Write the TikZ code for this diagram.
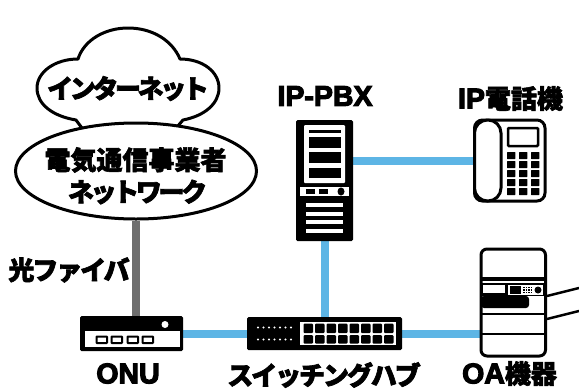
\documentclass[tikz,border=0pt]{standalone}
\usepackage{fontspec}
\usetikzlibrary{shapes.geometric}
\newfontfamily\jpfont{Noto Sans CJK JP}[BoldFeatures={FakeBold=2.2}]
\newfontfamily\jpkana{Noto Sans CJK JP}[BoldFeatures={FakeBold=2.6,LetterSpace=-13}]
\newfontfamily\jpkanb{Noto Sans CJK JP}[BoldFeatures={FakeBold=2.6,LetterSpace=-8}]
\newfontfamily\lafont{Liberation Sans}[BoldFeatures={FakeBold=4}]
\definecolor{lanblue}{HTML}{5DB5E5}
\definecolor{fibergray}{HTML}{6E6E6E}
\tikzset{
  lan/.style={draw=lanblue,line width=8pt},
  fiber/.style={draw=fibergray,line width=8pt},
  devbox/.style={inner sep=0pt,outer sep=0pt,draw=none},
  ink/.style={fill=black,draw=none},
  paper/.style={fill=white,draw=none},
  lbl/.style={inner sep=0pt,font=\jpfont\bfseries\fontsize{#1}{#1}\selectfont},
  kana/.style={inner sep=0pt,font=\jpkana\bfseries\fontsize{#1}{#1}\selectfont},
  kanb/.style={inner sep=0pt,font=\jpkanb\bfseries\fontsize{#1}{#1}\selectfont},
  latin/.style={inner sep=0pt,font=\lafont\bfseries\fontsize{28.5}{28.5}\selectfont},
}
\begin{document}
\begin{tikzpicture}[x=1pt,y=-1pt]
\useasboundingbox (0,0) rectangle (579,389);
% device anchors
\node[devbox,minimum width=57pt,minimum height=121pt] (server) at (324.5,180.5) {};
\node[devbox,minimum width=73pt,minimum height=83pt] (phone) at (509.5,160.5) {};
\node[devbox,minimum width=103pt,minimum height=35pt] (onu) at (131.5,333.5) {};
\node[devbox,minimum width=155pt,minimum height=33pt] (hub) at (324.5,333.5) {};
\node[devbox,minimum width=66pt,minimum height=109pt] (copier) at (513,302.5) {};
% cloud
\draw[line width=3pt,fill=white,line join=round] (82,128) -- (76,120)
  .. controls (52,116) and (37,104) .. (37,88)
  .. controls (37,72) and (55,59) .. (78,59)
  .. controls (84,40) and (105,28) .. (128,28)
  .. controls (152,28) and (172,40) .. (180,59)
  .. controls (203,59) and (219,72) .. (219,88)
  .. controls (219,104) and (204,116) .. (183,120) -- (177,127);
\node[kana=26] (inet) at (128,88.5) {インターネット};
% carrier ellipse
\node[ellipse,draw,line width=3pt,fill=white,minimum width=241pt,minimum height=96pt,inner sep=0pt] (carrier) at (136,171) {};
\node[lbl=26] (carriertxt1) at (135.5,160) {電気通信事業者};
\node[kana=26] (carriertxt2) at (137.5,192) {ネットワーク};
% connectors
\draw[fiber] (carrier.south) -- (carrier.south |- onu.north);
\draw[lan] ([yshift=20pt]server.east) -- (phone.west);
\draw[lan] (server.south) -- (hub.north);
\draw[lan] (onu.east) -- (hub.west);
\draw[lan] (hub.east) -- (hub.east -| copier.west);
% server
\fill[ink,rounded corners=1.5pt] (296,120) rectangle (353,241);
\fill[paper,rounded corners=1pt] (304,125) rectangle (345,183);
\fill[ink] (309,130) rectangle (341,132.5);
\fill[ink] (309,137) rectangle (341,148);
\fill[ink] (309,152) rectangle (341,163);
\fill[ink] (309,168) rectangle (341,178);
\fill[paper] (300,187) rectangle (349,196);
\fill[ink] (306,189) rectangle (315,194);
\fill[ink] (319,189) rectangle (328,194);
\fill[ink] (341,191.5) ellipse (3.5 and 4);
\foreach \yy in {203,211.5,220,229} \fill[paper] (306,\yy) rectangle (343,\yy+4.2);
% phone
\draw[line width=3pt,rounded corners=8pt,fill=white] (474.5,120) rectangle (545,201);
\draw[line width=3pt,rounded corners=13pt,fill=white] (474.5,120) rectangle (501,201);
\draw[line width=2.5pt,rounded corners=1pt] (508,128) rectangle (538,146);
\foreach \xx in {507,519,531}
  \foreach \yy in {152,161,170,179,188}
    \fill[ink,rounded corners=.5pt] (\xx,\yy) rectangle (\xx+8.3,\yy+7);
% ONU
\fill[ink,rounded corners=1.5pt] (80,316) rectangle (183,351);
\fill[paper] (85,331) rectangle (180,347);
\fill[paper] (165,324.5) circle (3.5);
\foreach \xx in {96,111,127,142}
  \draw[line width=2pt,rounded corners=.5pt] (\xx+.5,336.5) rectangle (\xx+11,343);
% hub
\fill[ink,rounded corners=1.5pt] (247,317) rectangle (402,350);
\foreach \xx in {0,...,6} {
  \fill[paper] (258+\xx*5.5,327.5) circle (1.2);
  \fill[paper] (258+\xx*5.5,339.5) circle (1.2);
}
\fill[paper] (299.5,322) rectangle (396,345);
\foreach \xx in {0,...,7} {
  \fill[ink,rounded corners=1pt] (303.5+\xx*11.5,323.5) rectangle (303.5+\xx*11.5+9.5,333);
  \fill[ink,rounded corners=1pt] (303.5+\xx*11.5,335) rectangle (303.5+\xx*11.5+9.5,343.5);
}
% copier tray
\draw[line width=2.5pt] (547,296) -- (579,288);
\draw[line width=2.5pt] (547,319) -- (579,311);
% copier
\draw[line width=3pt,rounded corners=6pt,fill=white] (481,249) rectangle (545.5,356);
\fill[ink] (481,277) rectangle (545.5,281);
\fill[ink] (481,282.5) rectangle (545.5,296);
\fill[paper] (483,285) rectangle (505,293);
\fill[paper] (508,285) rectangle (543,295);
\fill[ink] (509.5,286) rectangle (521,294);
\foreach \xx in {523,525.5,528,530.5}
  \foreach \yy in {286.5,289,291.5}
    \fill[ink] (\xx,\yy) rectangle (\xx+1.5,\yy+1.5);
\fill[ink] (538,290) circle (3.5);
\fill[ink,rounded corners=3pt] (481,296) -- (529,296) -- (529,308) -- (481,308) -- cycle;
\draw[line width=2pt] (481,314) -- (545.5,314);
\draw[line width=2.5pt] (481,334) -- (545.5,334);
% labels
\node[latin] (pbxlbl) at (325,96) {IP-PBX};
\node[inner sep=0pt] (tellbl) at (510.5,98.5) {\lafont\bfseries\fontsize{28.5}{28.5}\selectfont IP\jpfont\bfseries\fontsize{26}{26}\selectfont 電話機};
\node[kanb=26] (fiberlbl) at (69,270) {光ファイバ};
\node[latin] (onulbl) at (128,373.5) {ONU};
\node[kanb=26] (hublbl) at (324,375) {スイッチングハブ};
\node[inner sep=0pt] (oalbl) at (509.5,373.5) {\lafont\bfseries\fontsize{28.5}{28.5}\selectfont OA\jpfont\bfseries\fontsize{26}{26}\selectfont 機器};
\end{tikzpicture}
\end{document}
